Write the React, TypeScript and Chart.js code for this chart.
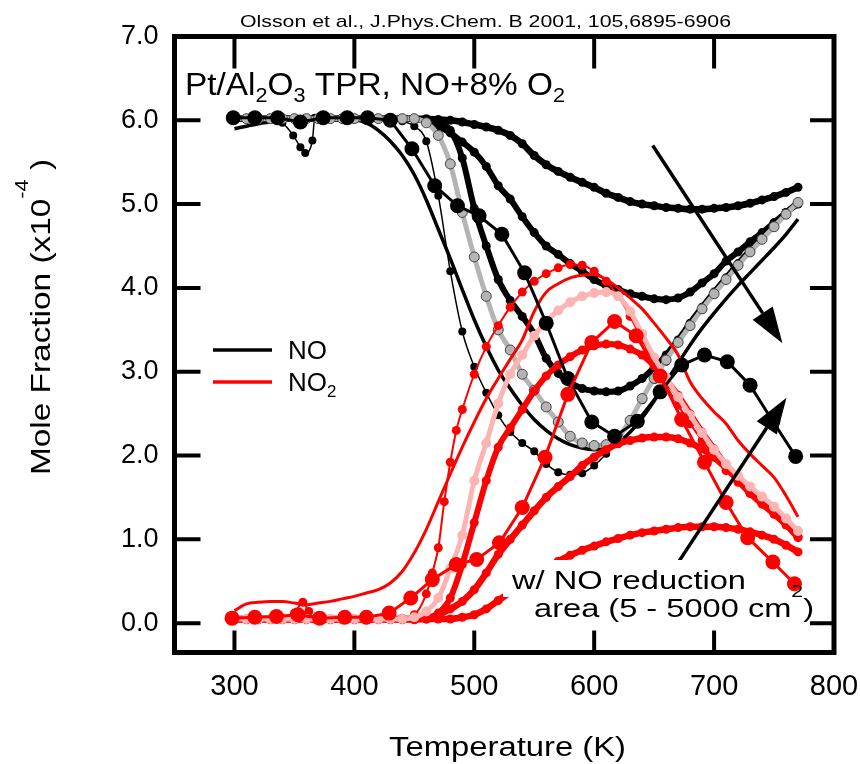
import React, { useEffect, useRef } from "react";
import { Chart, registerables } from "chart.js";
Chart.register(...registerables);

// ---------- data (Temperature in K, mole fraction x1e-4) ----------
const XTICKS = [300, 400, 500, 600, 700, 800];
const YTICKS = [0, 1, 2, 3, 4, 5, 6, 7];

const T10 = [300, 310, 320, 330, 340, 350, 360, 370, 380, 390, 400, 410, 420, 430, 440, 450, 460, 470, 480, 490, 500, 510, 520, 530, 540, 550, 560, 570, 580, 590, 600, 610, 620, 630, 640, 650, 660, 670, 680, 690, 700, 710, 720, 730, 740, 750, 760, 770];

// NO series
const NO_top = [6.02, 6.02, 6.02, 6.02, 6.02, 6.02, 6.02, 6.02, 6.02, 6.02, 6.02, 6.02, 6.02, 6.02, 6.02, 6.02, 6.02, 6.01, 6.0, 5.98, 5.95, 5.92, 5.88, 5.82, 5.72, 5.58, 5.47, 5.39, 5.32, 5.26, 5.2, 5.13, 5.08, 5.03, 5.0, 4.98, 4.96, 4.95, 4.94, 4.94, 4.95, 4.96, 4.98, 5.01, 5.05, 5.09, 5.14, 5.2];
const NO_second = [6.02, 6.02, 6.02, 6.02, 6.02, 6.02, 6.02, 6.02, 6.02, 6.02, 6.02, 6.02, 6.02, 6.02, 6.02, 6.02, 5.98, 5.93, 5.85, 5.74, 5.62, 5.45, 5.22, 5.06, 4.85, 4.66, 4.5, 4.4, 4.29, 4.2, 4.1, 4.03, 3.98, 3.93, 3.9, 3.87, 3.86, 3.88, 3.95, 4.06, 4.17, 4.32, 4.43, 4.55, 4.66, 4.78, 4.9, 5.02];
const NO_third = [6.02, 6.02, 6.02, 6.02, 6.02, 6.02, 6.02, 6.02, 6.02, 6.02, 6.02, 6.02, 6.02, 6.02, 6.02, 6.02, 6.0, 5.97, 5.88, 5.55, 4.95, 4.5, 4.1, 3.85, 3.66, 3.45, 3.16, 2.98, 2.87, 2.8, 2.77, 2.76, 2.77, 2.83, 2.92, 3.05, 3.2, 3.38, 3.58, 3.77, 3.95, 4.12, 4.29, 4.45, 4.6, 4.75, 4.9, 5.0];
const NO_gray = [6.02, 6.02, 6.02, 6.02, 6.02, 6.02, 6.02, 6.02, 6.02, 6.02, 6.02, 6.02, 6.02, 6.02, 6.02, 6.02, 5.97, 5.82, 5.48, 4.9, 4.37, 3.9, 3.5, 3.26, 2.97, 2.78, 2.58, 2.4, 2.23, 2.15, 2.12, 2.13, 2.22, 2.42, 2.68, 2.92, 3.14, 3.35, 3.55, 3.75, 3.93, 4.1, 4.27, 4.43, 4.58, 4.73, 4.88, 5.02];
const NO_line = [5.9, 5.93, 5.96, 5.98, 6.0, 6.0, 6.0, 6.0, 6.0, 6.0, 6.0, 5.97, 5.88, 5.75, 5.58, 5.35, 5.05, 4.7, 4.35, 3.98, 3.62, 3.3, 3.02, 2.8, 2.6, 2.43, 2.3, 2.2, 2.13, 2.09, 2.07, 2.09, 2.15, 2.28, 2.45, 2.65, 2.88, 3.1, 3.32, 3.52, 3.7, 3.87, 4.03, 4.18, 4.33, 4.48, 4.64, 4.82];

const T_NO_small = [300, 310, 320, 330, 340, 349, 355, 359, 365, 367, 380, 390, 400, 410, 420, 430, 440, 450, 460, 470, 480, 490, 500, 510, 520, 530, 540, 550, 560, 570, 580, 590, 600, 610, 620, 630, 640, 650, 660, 670, 680, 690, 700, 710, 720, 730, 740, 750, 760, 770];
const NO_small = [6.02, 6.02, 6.02, 6.02, 5.97, 5.82, 5.68, 5.61, 5.76, 6.03, 6.02, 6.02, 6.02, 6.02, 6.02, 6.02, 5.99, 5.93, 5.75, 5.1, 4.2, 3.48, 3.06, 2.75, 2.48, 2.28, 2.15, 2.05, 1.9, 1.8, 1.77, 1.79, 1.88, 2.02, 2.2, 2.42, 2.66, 2.9, 3.12, 3.34, 3.54, 3.74, 3.92, 4.1, 4.27, 4.44, 4.6, 4.75, 4.9, 5.0];

const T_NO_big = [299, 317, 336, 355, 374, 394, 411, 430, 448, 467, 486, 504, 523, 542, 560, 578, 598, 617, 636, 655, 673, 692, 711, 730, 749, 768];
const NO_big = [6.03, 6.03, 6.03, 5.98, 6.03, 6.03, 6.03, 6.0, 5.66, 5.22, 4.98, 4.86, 4.64, 4.18, 3.58, 2.92, 2.4, 2.23, 2.41, 2.76, 3.08, 3.2, 3.12, 2.84, 2.41, 1.99];

// NO2 series
const T_NO2_small = [300, 310, 320, 330, 340, 350, 357, 362, 367, 380, 390, 400, 410, 420, 430, 440, 450, 460, 465, 470, 475, 480, 485, 490, 500, 510, 520, 530, 540, 550, 560, 570, 580, 590, 600, 610, 620, 630, 640, 650, 660, 670, 680, 690, 700, 710, 720, 730, 740, 750, 760, 770];
const NO2_small = [0.05, 0.05, 0.05, 0.05, 0.06, 0.12, 0.25, 0.14, 0.05, 0.05, 0.05, 0.05, 0.05, 0.05, 0.05, 0.06, 0.1, 0.35, 0.6, 0.9, 1.45, 1.92, 2.3, 2.55, 2.97, 3.3, 3.55, 3.77, 3.95, 4.08, 4.17, 4.24, 4.28, 4.27, 4.2, 4.08, 3.9, 3.66, 3.38, 3.09, 2.83, 2.6, 2.38, 2.18, 2.0, 1.82, 1.68, 1.55, 1.44, 1.32, 1.18, 1.03];
const NO2_pink = [0.05, 0.05, 0.05, 0.05, 0.05, 0.05, 0.05, 0.05, 0.05, 0.05, 0.05, 0.05, 0.05, 0.05, 0.05, 0.07, 0.14, 0.3, 0.65, 1.05, 1.7, 2.15, 2.62, 2.97, 3.2, 3.43, 3.6, 3.73, 3.83, 3.9, 3.94, 3.95, 3.9, 3.72, 3.45, 3.17, 2.93, 2.7, 2.48, 2.27, 2.07, 1.9, 1.76, 1.63, 1.51, 1.39, 1.25, 1.1];
const NO2_mid = [0.04, 0.04, 0.04, 0.04, 0.04, 0.04, 0.04, 0.04, 0.04, 0.04, 0.04, 0.04, 0.04, 0.04, 0.04, 0.04, 0.06, 0.12, 0.3, 0.7, 1.2, 1.7, 2.1, 2.33, 2.55, 2.77, 2.95, 3.08, 3.18, 3.26, 3.31, 3.33, 3.32, 3.27, 3.2, 3.07, 2.9, 2.72, 2.5, 2.28, 2.08, 1.88, 1.7, 1.55, 1.42, 1.3, 1.17, 1.02];
const NO2_low = [0.05, 0.05, 0.05, 0.05, 0.05, 0.05, 0.05, 0.05, 0.05, 0.05, 0.05, 0.05, 0.05, 0.05, 0.05, 0.05, 0.05, 0.1, 0.17, 0.26, 0.4, 0.6, 0.82, 1.0, 1.17, 1.34, 1.5, 1.63, 1.75, 1.88, 1.98, 2.07, 2.14, 2.18, 2.21, 2.22, 2.22, 2.2, 2.15, 2.08, 1.98, 1.85, 1.72, 1.6, 1.49, 1.37, 1.2, 1.03];
const NO2_lowest = [0.05, 0.05, 0.05, 0.05, 0.05, 0.05, 0.05, 0.05, 0.05, 0.05, 0.05, 0.05, 0.05, 0.05, 0.05, 0.05, 0.05, 0.05, 0.05, 0.07, 0.1, 0.17, 0.27, 0.37, 0.48, 0.57, 0.66, 0.74, 0.81, 0.87, 0.92, 0.97, 1.01, 1.05, 1.08, 1.1, 1.12, 1.14, 1.15, 1.15, 1.15, 1.14, 1.12, 1.09, 1.05, 1.0, 0.93, 0.85];
const NO2_line = [0.15, 0.23, 0.25, 0.26, 0.26, 0.24, 0.22, 0.24, 0.26, 0.29, 0.32, 0.36, 0.4, 0.48, 0.62, 0.84, 1.12, 1.45, 1.78, 2.1, 2.4, 2.68, 2.92, 3.15, 3.38, 3.72, 3.95, 4.05, 4.12, 4.15, 4.16, 4.1, 4.0, 3.88, 3.75, 3.58, 3.4, 3.2, 2.88, 2.68, 2.52, 2.38, 2.18, 2.02, 1.88, 1.74, 1.52, 1.27];

const T_NO2_big = [298, 317, 335, 353, 371, 392, 410, 429, 447, 465, 485, 502, 521, 540, 559, 578, 598, 617, 635, 655, 673, 692, 710, 728, 749, 767];
const NO2_big = [0.06, 0.07, 0.08, 0.1, 0.06, 0.07, 0.07, 0.12, 0.3, 0.52, 0.7, 0.76, 0.96, 1.38, 1.98, 2.73, 3.35, 3.6, 3.43, 2.95, 2.43, 1.92, 1.44, 1.02, 0.73, 0.47];

// arrows: [T0, v0, T1, v1] (tail -> tip)
const ARROW_DOWN = [648.8, 5.7, 757, 3.34];
const ARROW_UP = [663, 0.57, 760.4, 2.69];

const RED = "#ff0000";
const PINK = "#ffb4b4";
const GRAY = "#b4b4b4";
const FONT = "'Liberation Sans', Arial, sans-serif";

type Part = { t: string; sub?: boolean; sup?: boolean };

function pts(xs: number[], ys: number[]) {
  return xs.map((x, i) => ({ x, y: ys[i] }));
}

function drawParts(ctx: CanvasRenderingContext2D, parts: Part[], fs: number, target?: number) {
  const small = fs * 0.65;
  let w = 0;
  for (const p of parts) {
    ctx.font = `${p.sub || p.sup ? small : fs}px ${FONT}`;
    w += ctx.measureText(p.t).width;
  }
  const sx = target ? target / w : 1;
  ctx.save();
  ctx.scale(sx, 1);
  let x = 0;
  for (const p of parts) {
    ctx.font = `${p.sub || p.sup ? small : fs}px ${FONT}`;
    const dy = p.sub ? fs * 0.24 : p.sup ? -fs * 0.8 : 0;
    ctx.fillText(p.t, x, dy);
    x += ctx.measureText(p.t).width;
  }
  ctx.restore();
}

function textAt(ctx: CanvasRenderingContext2D, parts: Part[], x: number, y: number, fs: number, target?: number, rot = 0) {
  ctx.save();
  ctx.translate(x, y);
  if (rot) ctx.rotate(rot);
  ctx.fillStyle = "#000";
  ctx.textBaseline = "alphabetic";
  ctx.textAlign = "left";
  drawParts(ctx, parts, fs, target);
  ctx.restore();
}

function arrow(ctx: CanvasRenderingContext2D, x0: number, y0: number, x1: number, y1: number) {
  const ang = Math.atan2(y1 - y0, x1 - x0);
  const L = 36, H = 12;
  const bx = x1 - L * Math.cos(ang), by = y1 - L * Math.sin(ang);
  ctx.save();
  ctx.strokeStyle = "#000";
  ctx.fillStyle = "#000";
  ctx.lineWidth = 3.5;
  ctx.beginPath();
  ctx.moveTo(x0, y0);
  ctx.lineTo(bx, by);
  ctx.stroke();
  ctx.beginPath();
  ctx.moveTo(x1, y1);
  ctx.lineTo(bx + H * Math.sin(ang), by - H * Math.cos(ang));
  ctx.lineTo(bx - H * Math.sin(ang), by + H * Math.cos(ang));
  ctx.closePath();
  ctx.fill();
  ctx.restore();
}

const decor = {
  id: "decor",
  afterDraw(chart: any) {
    const ctx: CanvasRenderingContext2D = chart.ctx;
    const { left, right, top, bottom } = chart.chartArea;
    const xs = chart.scales.x, ys = chart.scales.y;

    // arrows
    arrow(ctx, xs.getPixelForValue(ARROW_DOWN[0]), ys.getPixelForValue(ARROW_DOWN[1]), xs.getPixelForValue(ARROW_DOWN[2]), ys.getPixelForValue(ARROW_DOWN[3]));
    arrow(ctx, xs.getPixelForValue(ARROW_UP[0]), ys.getPixelForValue(ARROW_UP[1]), xs.getPixelForValue(ARROW_UP[2]), ys.getPixelForValue(ARROW_UP[3]));

    // white boxes behind annotation
    ctx.save();
    ctx.fillStyle = "#fff";
    ctx.fillRect(503, 560, 250, 37);
    ctx.fillRect(530, 596, 287, 36);
    ctx.restore();
    textAt(ctx, [{ t: "w/ NO reduction" }], 512, 589, 25, 234);
    textAt(ctx, [{ t: "area (5 - 5000 cm" }, { t: "2", sup: true }, { t: ")" }], 534, 617, 25, 280);

    // frame + inward ticks
    ctx.save();
    ctx.strokeStyle = "#000";
    ctx.lineWidth = 5;
    ctx.strokeRect(left, top, right - left, bottom - top);
    ctx.lineWidth = 4;
    ctx.beginPath();
    for (const v of YTICKS) {
      const y = ys.getPixelForValue(v);
      ctx.moveTo(left, y); ctx.lineTo(left + 26, y);
      ctx.moveTo(right, y); ctx.lineTo(right - 24, y);
    }
    for (const v of XTICKS) {
      if (v >= 800) continue;
      const x = xs.getPixelForValue(v);
      ctx.moveTo(x, bottom); ctx.lineTo(x, bottom - 22);
      ctx.moveTo(x, top); ctx.lineTo(x, top + 32);
    }
    ctx.stroke();
    ctx.restore();

    // legend
    ctx.save();
    ctx.lineWidth = 3.5;
    ctx.strokeStyle = "#000";
    ctx.beginPath(); ctx.moveTo(213, 350); ctx.lineTo(272, 350); ctx.stroke();
    ctx.strokeStyle = RED;
    ctx.beginPath(); ctx.moveTo(213, 382); ctx.lineTo(272, 382); ctx.stroke();
    ctx.restore();
    textAt(ctx, [{ t: "NO" }], 288, 359, 26);
    textAt(ctx, [{ t: "NO" }, { t: "2", sub: true }], 288, 391, 26);

    // texts
    textAt(ctx, [{ t: "Olsson et al., J.Phys.Chem. B 2001, 105,6895-6906" }], 240, 27, 17, 491);
    textAt(ctx, [{ t: "Pt/Al" }, { t: "2", sub: true }, { t: "O" }, { t: "3", sub: true }, { t: " TPR, NO+8% O" }, { t: "2", sub: true }], 185, 95, 31, 380);
    textAt(ctx, [{ t: "Temperature (K)" }], 389, 756, 27, 237);
    textAt(ctx, [{ t: "Mole Fraction (x10" }, { t: "-4", sup: true }, { t: " )" }], 50, 475, 27, 316, -Math.PI / 2);
  },
};

function dotted(label: string, xs: number[], ys: number[], color: string, r: number, lw: number, order: number, extra: any = {}) {
  return {
    label,
    data: pts(xs, ys),
    borderColor: color,
    backgroundColor: color,
    pointBackgroundColor: color,
    pointBorderColor: color,
    pointBorderWidth: 0,
    pointRadius: r,
    borderWidth: lw,
    cubicInterpolationMode: "monotone",
    order,
    ...extra,
  };
}

export default function App() {
  const ref = useRef<HTMLCanvasElement>(null);
  useEffect(() => {
    document.body.style.margin = "0";
    const canvas = ref.current!;
    const chart = new Chart(canvas, {
      type: "line",
      data: {
        datasets: [
          dotted("NO2 big", T_NO2_big, NO2_big, RED, 7.5, 3, 1, { cubicInterpolationMode: "default", tension: 0 }),
          dotted("NO big", T_NO_big, NO_big, "#000", 7.5, 3, 2, { cubicInterpolationMode: "default", tension: 0 }),
          dotted("NO2 pink", T10, NO2_pink, PINK, 5, 5, 3),
          dotted("NO2 small", T_NO2_small, NO2_small, RED, 4.5, 2, 4),
          dotted("NO2 mid", T10, NO2_mid, RED, 4.5, 6, 5),
          dotted("NO2 low", T10, NO2_low, RED, 4.5, 6.5, 6),
          dotted("NO2 lowest", T10, NO2_lowest, RED, 4.5, 6.5, 7),
          dotted("NO2 line", T10, NO2_line, RED, 0, 3, 8),
          dotted("NO gray", T10, NO_gray, GRAY, 5, 5, 9, { pointBorderColor: "#444", pointBorderWidth: 1 }),
          dotted("NO top", T10, NO_top, "#000", 4.5, 6.5, 10),
          dotted("NO second", T10, NO_second, "#000", 4.5, 6, 11),
          dotted("NO third", T10, NO_third, "#000", 4.5, 6, 12),
          dotted("NO small", T_NO_small, NO_small, "#000", 4, 1.5, 13),
          dotted("NO line", T10, NO_line, "#000", 0, 3.5, 14),
        ] as any,
      },
      options: {
        animation: false,
        responsive: false,
        devicePixelRatio: 1,
        events: [],
        layout: { padding: { top: 36.5, right: 26, left: 0, bottom: 0 } },
        plugins: { legend: { display: false }, tooltip: { enabled: false }, title: { display: false } },
        scales: {
          x: {
            type: "linear",
            min: 250,
            max: 800,
            afterBuildTicks: (s: any) => { s.ticks = XTICKS.map((v) => ({ value: v })); },
            afterFit: (s: any) => { s.height = 764 - 652.5; s.paddingLeft = 0; s.paddingRight = 0; },
            grid: { display: false, drawTicks: false },
            border: { display: false },
            ticks: { font: { family: FONT, size: 29 }, color: "#000", padding: 17, maxRotation: 0, autoSkip: false },
          },
          y: {
            type: "linear",
            min: -0.35,
            max: 7,
            afterBuildTicks: (s: any) => { s.ticks = YTICKS.map((v) => ({ value: v })); },
            afterFit: (s: any) => { s.width = 174.5; s.paddingTop = 0; s.paddingBottom = 0; },
            grid: { display: false, drawTicks: false },
            border: { display: false },
            ticks: { font: { family: FONT, size: 27 }, color: "#000", padding: 16, callback: (v: any) => Number(v).toFixed(1) },
          },
        },
      } as any,
      plugins: [decor],
    });
    return () => chart.destroy();
  }, []);
  return (
    <div style={{ width: 860, height: 764 }}>
      <canvas ref={ref} width={860} height={764} style={{ display: "block" }} />
    </div>
  );
}
